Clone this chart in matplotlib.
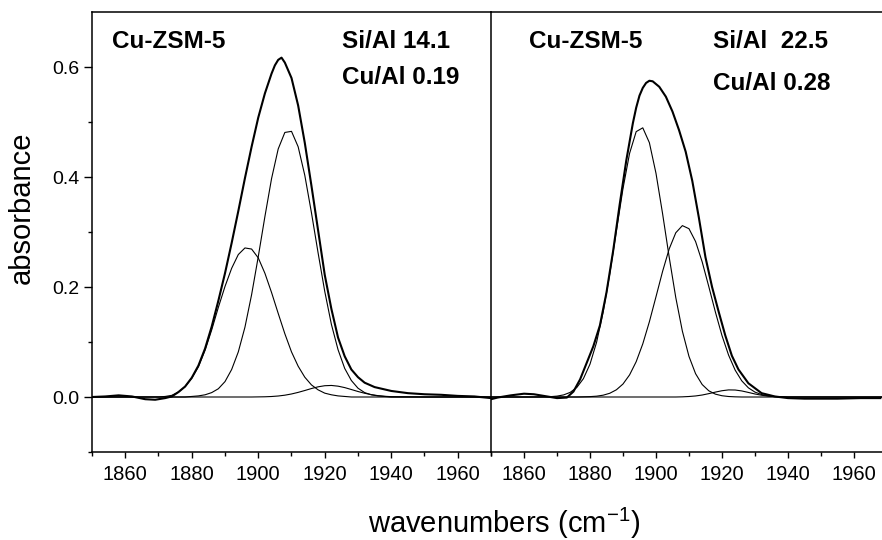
import matplotlib
matplotlib.use("Agg")
import matplotlib.pyplot as plt
from matplotlib.ticker import FixedLocator

plt.rcParams['font.family'] = ['Liberation Sans', 'DejaVu Sans']

# ---- data (wavenumber in cm-1, absorbance) ----
# common grid for the fitted component bands
comp_wn = [1850, 1860, 1866, 1868, 1870, 1872, 1874, 1876, 1878, 1880, 1882, 1884,
           1886, 1888, 1890, 1892, 1894, 1896, 1898, 1900, 1902, 1904, 1906, 1908,
           1910, 1912, 1914, 1916, 1918, 1920, 1922, 1924, 1926, 1928, 1930, 1932,
           1934, 1936, 1938, 1940, 1950, 1960, 1970]

# left panel: Si/Al 14.1, Cu/Al 0.19
left_meas_wn = [1850, 1854, 1858, 1862, 1866, 1869, 1872, 1874, 1876, 1878, 1880, 1882,
                1884, 1886, 1888, 1890, 1892, 1894, 1896, 1898, 1900, 1902, 1904, 1905,
                1906, 1907, 1908, 1910, 1912, 1914, 1916, 1918, 1920, 1922, 1924, 1926,
                1928, 1930, 1932, 1935, 1940, 1945, 1950, 1955, 1960, 1965, 1970]
left_meas_abs = [0.000, 0.001, 0.003, 0.001, -0.004, -0.005, -0.002, 0.001, 0.009, 0.019,
                 0.035, 0.057, 0.088, 0.128, 0.175, 0.225, 0.280, 0.338, 0.398, 0.455,
                 0.508, 0.552, 0.588, 0.603, 0.613, 0.617, 0.608, 0.580, 0.530, 0.462,
                 0.384, 0.303, 0.222, 0.160, 0.108, 0.074, 0.050, 0.036, 0.026, 0.018,
                 0.011, 0.007, 0.005, 0.004, 0.002, 0.001, -0.002]
left_band1 = [0, 0, 0, 0, 0, 0.001, 0.003, 0.009, 0.019, 0.034, 0.055, 0.085,
              0.122, 0.163, 0.201, 0.234, 0.259, 0.271, 0.269, 0.253, 0.225, 0.190, 0.152, 0.115,
              0.082, 0.056, 0.036, 0.022, 0.013, 0.007, 0.004, 0.002, 0.001, 0, 0, 0,
              0, 0, 0, 0, 0, 0, 0]
left_band2 = [0, 0, 0, 0, 0, 0, 0, 0, 0, 0.001, 0.002, 0.004,
              0.008, 0.015, 0.028, 0.050, 0.082, 0.127, 0.186, 0.255, 0.328, 0.397, 0.451, 0.481,
              0.483, 0.455, 0.403, 0.335, 0.262, 0.192, 0.132, 0.086, 0.052, 0.030, 0.016, 0.008,
              0.004, 0.002, 0.001, 0, 0, 0, 0]
left_band3 = [0, 0, 0, 0, 0, 0, 0, 0, 0, 0, 0, 0,
              0, 0, 0, 0, 0, 0, 0, 0.0002, 0.0004, 0.0009, 0.0018, 0.0033,
              0.0055, 0.0084, 0.0118, 0.0154, 0.0185, 0.0205, 0.0210, 0.0197, 0.0171, 0.0136, 0.0100, 0.0068,
              0.0043, 0.0025, 0.0013, 0.0006, 0, 0, 0]

# right panel: Si/Al 22.5, Cu/Al 0.28
right_meas_wn = [1850, 1852, 1856, 1860, 1863, 1867, 1870, 1873, 1875, 1877, 1879, 1881,
                 1883, 1885, 1887, 1889, 1891, 1893, 1894, 1895, 1896, 1897, 1898, 1899,
                 1901, 1903, 1905, 1907, 1909, 1911, 1913, 1915, 1917, 1919, 1921, 1923,
                 1925, 1928, 1932, 1936, 1940, 1945, 1955, 1962, 1968]
right_meas_abs = [-0.004, -0.001, 0.003, 0.006, 0.005, 0.001, -0.002, -0.001, 0.010, 0.032,
                  0.062, 0.092, 0.130, 0.190, 0.265, 0.350, 0.430, 0.498, 0.526, 0.548,
                  0.562, 0.571, 0.575, 0.574, 0.564, 0.546, 0.519, 0.485, 0.446, 0.393,
                  0.326, 0.254, 0.200, 0.155, 0.112, 0.075, 0.050, 0.025, 0.007, 0.001,
                  -0.002, -0.003, -0.003, -0.002, -0.002]
right_band1 = [0, 0, 0.0002, 0.0006, 0.0016, 0.0038, 0.0084, 0.0173, 0.0333, 0.0597, 0.0995, 0.1547,
               0.2239, 0.3018, 0.3789, 0.4430, 0.4825, 0.4894, 0.4624, 0.4068, 0.3334, 0.2544, 0.1808, 0.1197,
               0.0738, 0.0424, 0.0227, 0.0113, 0.0052, 0.0023, 0.0009, 0.0003, 0, 0, 0, 0,
               0, 0, 0, 0, 0, 0, 0]
right_band2 = [0, 0, 0, 0, 0, 0, 0, 0, 0.0003, 0.0007, 0.0015, 0.0033,
               0.0068, 0.0131, 0.0236, 0.0402, 0.0642, 0.0966, 0.1368, 0.1822, 0.2283, 0.2692, 0.2986, 0.3116,
               0.3060, 0.2827, 0.2457, 0.2009, 0.1546, 0.1118, 0.0762, 0.0488, 0.0294, 0.0167, 0.0089, 0.0045,
               0.0021, 0.0009, 0.0004, 0.0001, 0, 0, 0]
right_band3 = [0, 0, 0, 0, 0, 0, 0, 0, 0, 0, 0, 0,
               0, 0, 0, 0, 0, 0, 0, 0, 0, 0, 0, 0.0003,
               0.0009, 0.0019, 0.0036, 0.0061, 0.0089, 0.0114, 0.0129, 0.0127, 0.0110, 0.0083, 0.0055, 0.0032,
               0.0016, 0.0007, 0.0003, 0, 0, 0, 0]

panel_titles = ["Cu-ZSM-5", "Cu-ZSM-5"]
panel_si_al = ["Si/Al 14.1", "Si/Al  22.5"]
panel_cu_al = ["Cu/Al 0.19", "Cu/Al 0.28"]

x_major = [1860, 1880, 1900, 1920, 1940, 1960]
x_minor = [1850, 1870, 1890, 1910, 1930, 1950, 1970]
y_major = [0.0, 0.2, 0.4, 0.6]
y_minor = [-0.1, 0.1, 0.3, 0.5]

fig = plt.figure(figsize=(8.82, 5.4), dpi=100)
ax1 = fig.add_axes([92 / 882, 88 / 540, 399 / 882, 440 / 540])
ax2 = fig.add_axes([491 / 882, 88 / 540, 391 / 882, 440 / 540])
ax2.patch.set_visible(False)

panels = [
    (ax1, left_meas_wn, left_meas_abs, [left_band1, left_band2, left_band3], (1850, 1970)),
    (ax2, right_meas_wn, right_meas_abs, [right_band1, right_band2, right_band3], (1850, 1968.5)),
]

for i, (ax, mw, ma, bands, xl) in enumerate(panels):
    # fitted component bands (thin)
    for b in bands:
        ax.plot(comp_wn, b, color='black', linewidth=0.8)
    # measured spectrum (thick)
    ax.plot(mw, ma, color='black', linewidth=1.5)

    ax.set_xlim(*xl)
    ax.set_ylim(-0.1, 0.7)
    ax.xaxis.set_major_locator(FixedLocator(x_major))
    ax.xaxis.set_minor_locator(FixedLocator(x_minor))
    ax.tick_params(axis='x', which='major', direction='out', length=4, width=1,
                   labelsize=14.5, pad=5)
    ax.tick_params(axis='x', which='minor', direction='out', length=3, width=1)

    for s in ax.spines.values():
        s.set_linewidth(1.1)

    ax.text(0.05 if i == 0 else 0.098, 0.934, panel_titles[i], transform=ax.transAxes,
            fontsize=17.5, fontweight='bold', va='center', ha='left')
    ax.text(0.626 if i == 0 else 0.569, 0.934, panel_si_al[i], transform=ax.transAxes,
            fontsize=17.5, fontweight='bold', va='center', ha='left')
    ax.text(0.626 if i == 0 else 0.569, 0.851 if i == 0 else 0.837, panel_cu_al[i],
            transform=ax.transAxes, fontsize=17.5, fontweight='bold', va='center', ha='left')

ax1.yaxis.set_major_locator(FixedLocator(y_major))
ax1.yaxis.set_minor_locator(FixedLocator(y_minor))
ax1.set_yticklabels(["%.1f" % v for v in y_major])
ax1.tick_params(axis='y', which='major', direction='out', length=6, width=1,
                labelsize=14, pad=3)
ax1.tick_params(axis='y', which='minor', direction='out', length=3, width=1)

ax2.spines['right'].set_visible(False)
ax2.spines['left'].set_visible(False)
ax2.set_yticks([])

fig.text(22 / 882, 0.615, "absorbance", rotation=90, fontsize=21, ha='center', va='center')
fig.text(504 / 882, 17 / 540, "wavenumbers (cm$^{\\mathregular{-1}}$)", fontsize=21,
         ha='center', va='center')

fig.savefig("out.png", dpi=100)
